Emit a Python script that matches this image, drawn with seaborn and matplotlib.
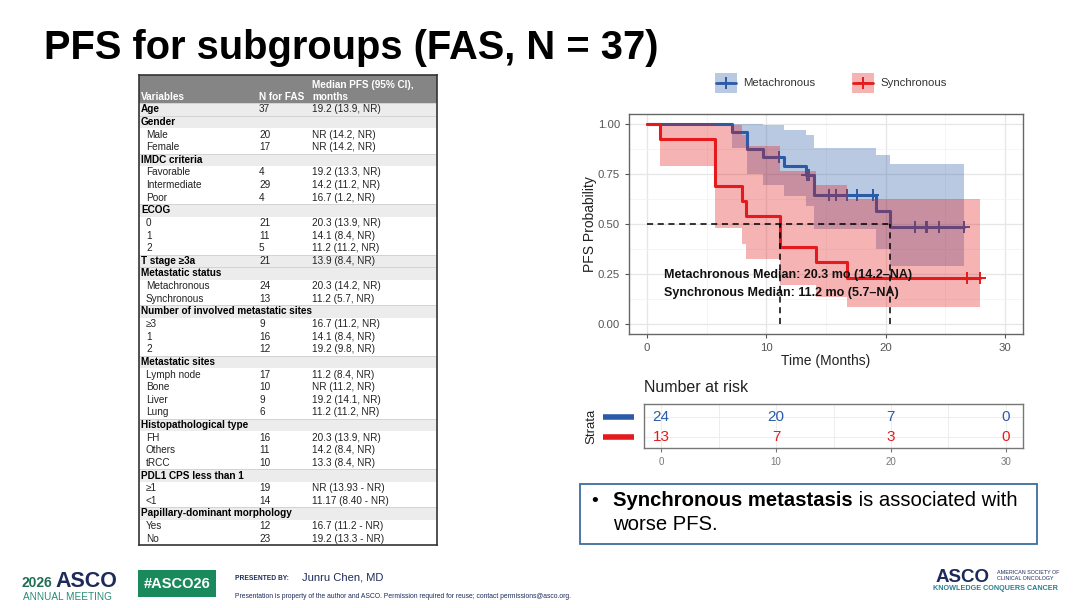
import numpy as np
import pandas as pd
import matplotlib
matplotlib.use("Agg")
import matplotlib.pyplot as plt
import seaborn as sns
from matplotlib.patches import Rectangle
from matplotlib.lines import Line2D

# ---- Kaplan-Meier data ----
groups = ["Metachronous", "Synchronous"]
palette = {"Metachronous": "#2B5BA6", "Synchronous": "#E41A1C"}

meta_time = [0, 7.15, 8.35, 9.75, 11.48, 13.3, 14.0, 19.2, 20.36, 26.6]
meta_surv = [1.0, 0.958, 0.875, 0.833, 0.789, 0.745, 0.646, 0.565, 0.484, 0.484]
meta_lower = [1.0, 0.881, 0.752, 0.697, 0.641, 0.588, 0.475, 0.377, 0.292, 0.292]
meta_upper = [1.0, 1.0, 1.0, 0.997, 0.971, 0.943, 0.879, 0.847, 0.802, 0.802]
meta_censor = [11.06, 13.4, 13.55, 15.25, 15.8, 16.73, 17.63, 18.97,
               22.46, 23.38, 23.5, 24.47, 26.6]

sync_time = [0, 1.12, 5.7, 8.0, 8.27, 11.17, 14.16, 16.76, 27.9]
sync_surv = [1.0, 0.923, 0.692, 0.615, 0.538, 0.385, 0.308, 0.231, 0.231]
sync_lower = [1.0, 0.789, 0.482, 0.400, 0.325, 0.194, 0.136, 0.086, 0.086]
sync_upper = [1.0, 1.0, 0.994, 0.946, 0.890, 0.766, 0.696, 0.623, 0.623]
sync_censor = [26.85, 27.9]

medians = {"Metachronous": 20.36, "Synchronous": 11.17}
median_labels = ["Metachronous Median: 20.3 mo (14.2\u2013NA)",
                 "Synchronous Median: 11.2 mo (5.7\u2013NA)"]

# number at risk
risk_times = [0, 10, 20, 30]
risk_meta = [24, 20, 7, 0]
risk_sync = [13, 7, 3, 0]

# ---- subgroup table ----
table_vars = ["Age", "Gender", "Male", "Female", "IMDC criteria", "Favorable",
              "Intermediate", "Poor", "ECOG", "0", "1", "2", "T stage \u22653a",
              "Metastatic status", "Metachronous", "Synchronous",
              "Number of involved metastatic sites", "\u22653", "1", "2",
              "Metastatic sites", "Lymph node", "Bone", "Liver", "Lung",
              "Histopathological type", "FH", "Others", "tRCC",
              "PDL1 CPS less than 1", "\u22651", "<1",
              "Papillary-dominant morphology", "Yes", "No"]
table_n = ["37", "", "20", "17", "", "4", "29", "4", "", "21", "11", "5", "21",
           "", "24", "13", "", "9", "16", "12", "", "17", "10", "9", "6", "",
           "16", "11", "10", "", "19", "14", "", "12", "23"]
table_pfs = ["19.2 (13.9, NR)", "", "NR (14.2, NR)", "NR (14.2, NR)", "",
             "19.2 (13.3, NR)", "14.2 (11.2, NR)", "16.7 (1.2, NR)", "",
             "20.3 (13.9, NR)", "14.1 (8.4, NR)", "11.2 (11.2, NR)",
             "13.9 (8.4, NR)", "", "20.3 (14.2, NR)", "11.2 (5.7, NR)", "",
             "16.7 (11.2, NR)", "14.1 (8.4, NR)", "19.2 (9.8, NR)", "",
             "11.2 (8.4, NR)", "NR (11.2, NR)", "19.2 (14.1, NR)",
             "11.2 (11.2, NR)", "", "20.3 (13.9, NR)", "14.2 (8.4, NR)",
             "13.3 (8.4, NR)", "", "NR (13.93 - NR)", "11.17 (8.40 - NR)", "",
             "16.7 (11.2 - NR)", "19.2 (13.3 - NR)"]
table_bold = [1, 1, 0, 0, 1, 0, 0, 0, 1, 0, 0, 0, 1, 1, 0, 0, 1, 0, 0, 0,
              1, 0, 0, 0, 0, 1, 0, 0, 0, 1, 0, 0, 1, 0, 0]

sns.set_style("white")
plt.rcParams["font.family"] = ["Liberation Sans", "DejaVu Sans"]
plt.rcParams["text.color"] = "black"

W, H = 1080, 608
fig = plt.figure(figsize=(W / 100, H / 100), dpi=100)


def box(x0, y0, x1, y1):
    # pixel box (top-left origin) -> figure fraction rect
    return [x0 / W, 1 - y1 / H, (x1 - x0) / W, (y1 - y0) / H]


# overlay for slide decorations
ov = fig.add_axes([0, 0, 1, 1])
ov.set_xlim(0, W)
ov.set_ylim(H, 0)
ov.axis("off")

ov.text(44, 59, "PFS for subgroups (FAS, N = 37)", fontsize=28.7,
        weight="bold", va="baseline", ha="left", color="black")

# ---- table ----
tab = fig.add_axes(box(139, 75, 437, 545))
tab.set_xlim(139, 437)
tab.set_ylim(545, 75)
tab.set_xticks([])
tab.set_yticks([])
for s in tab.spines.values():
    s.set_color("#333333")
    s.set_linewidth(1.2)
tab.add_patch(Rectangle((139, 75), 298, 28, color="#858585", lw=0))
hdr = dict(color="white", fontsize=7.2, weight="bold", va="center")
tab.text(141, 97, "Variables", **hdr)
tab.text(259, 97, "N for FAS", **hdr)
tab.text(312, 85, "Median PFS (95% CI),", **hdr)
tab.text(312, 97, "months", **hdr)
row_h = (545 - 103) / len(table_vars)
for i, (v, n, p, b) in enumerate(zip(table_vars, table_n, table_pfs, table_bold)):
    yc = 103 + row_h * (i + 0.5)
    if b:
        tab.add_patch(Rectangle((139, 103 + row_h * i), 298, row_h,
                                color="#ececec", lw=0))
        tab.axhline(103 + row_h * i, color="#cfcfcf", lw=0.6)
    tab.text(141 if b else 146, yc, v, fontsize=7.2, va="center",
             weight="bold" if b else "normal", color="black" if b else "#222222")
    tab.text(259, yc, n, fontsize=7.2, va="center", color="#222222")
    tab.text(312, yc, p, fontsize=7.2, va="center", color="#222222")

# ---- KM plot ----
km = pd.concat([
    pd.DataFrame({"time": meta_time, "surv": meta_surv, "group": "Metachronous"}),
    pd.DataFrame({"time": sync_time, "surv": sync_surv, "group": "Synchronous"}),
])
bands = {"Metachronous": (meta_time, meta_lower, meta_upper),
         "Synchronous": (sync_time, sync_lower, sync_upper)}
censors = {"Metachronous": (meta_time, meta_surv, meta_censor),
           "Synchronous": (sync_time, sync_surv, sync_censor)}

ax = fig.add_axes(box(629, 114, 1023, 334))
sns.lineplot(data=km, x="time", y="surv", hue="group", palette=palette,
             hue_order=groups, estimator=None, sort=False,
             drawstyle="steps-post", lw=2.2, legend=False, ax=ax, zorder=2)
for g in groups:
    t, s, c = censors[g]
    cy = np.array(s)[np.searchsorted(t, c, side="right") - 1]
    ax.plot(c, cy, ls="none", marker="+", ms=9, mew=1.4,
            color=palette[g], zorder=2)
for g in groups:
    t, lo, hi = bands[g]
    ax.fill_between(t, lo, hi, step="post", color=palette[g], alpha=0.33,
                    lw=0, zorder=3)

ax.hlines(0.5, 0, max(medians.values()), colors="black", ls=(0, (4, 3)),
          lw=1.1, zorder=4)
ax.vlines(list(medians.values()), 0, 0.5, colors="black", ls=(0, (4, 3)),
          lw=1.1, zorder=4)
ax.text(1.42, 0.244, median_labels[0], fontsize=9, weight="bold",
        va="center", zorder=5, color="#111111")
ax.text(1.42, 0.153, median_labels[1], fontsize=9, weight="bold",
        va="center", zorder=5, color="#111111")

ax.set_xlim(-1.5, 31.5)
ax.set_ylim(-0.05, 1.05)
ax.set_xticks([0, 10, 20, 30])
ax.set_yticks([0, 0.25, 0.5, 0.75, 1.0])
ax.set_yticklabels(["0.00", "0.25", "0.50", "0.75", "1.00"])
ax.set_xticks([5, 15, 25], minor=True)
ax.set_yticks([0.125, 0.375, 0.625, 0.875], minor=True)
ax.grid(True, which="major", color="#e6e6e6", lw=0.9, zorder=0)
ax.grid(True, which="minor", color="#f2f2f2", lw=0.5, zorder=0)
ax.set_axisbelow(True)
ax.tick_params(axis="both", which="major", labelsize=8.2, colors="#555555",
               length=3, width=0.8, direction="out", left=True, bottom=True)
ax.tick_params(which="minor", length=0)
for s in ax.spines.values():
    s.set_color("#666666")
    s.set_linewidth(1)
ax.set_xlabel("Time (Months)", fontsize=10, color="#222222")
ax.set_ylabel("PFS Probability", fontsize=10, color="#222222")
ax.xaxis.set_label_coords(0.5, -0.09)
ax.yaxis.set_label_coords(-0.081, 0.5)

# legend above the plot
for g, kx in zip(groups, [715, 852]):
    ov.add_patch(Rectangle((kx, 73), 22, 20, color=palette[g], alpha=0.33, lw=0))
    ov.add_line(Line2D([kx + 1, kx + 21], [83, 83], color=palette[g], lw=2))
    ov.plot(kx + 11, 83, marker="+", ms=9, mew=1.4, color=palette[g])
    ov.text(kx + 28, 83, g, fontsize=8.2, va="center", color="#333333")

# ---- number at risk table ----
ov.text(644, 388, "Number at risk", fontsize=11.5, va="center", color="#222222")
rk = fig.add_axes(box(644, 404, 1023, 448))
rk.set_xlim(-1.5, 31.5)
rk.set_ylim(0.45, 2.65)
for row_y, g, vals in [(2, "Metachronous", risk_meta), (1, "Synchronous", risk_sync)]:
    for t, v in zip(risk_times, vals):
        rk.text(t, row_y, str(v), fontsize=11, ha="center", va="center",
                color=palette[g])
rk.set_xticks(risk_times)
rk.set_xticks([5, 15, 25], minor=True)
rk.set_yticks([1, 2])
rk.set_yticklabels([])
rk.grid(True, which="both", color="#ededed", lw=0.7)
rk.tick_params(axis="x", which="major", labelsize=7, colors="#777777",
               length=3, width=0.8, bottom=True)
rk.tick_params(axis="y", length=0)
rk.tick_params(which="minor", length=0)
for s in rk.spines.values():
    s.set_color("#777777")
    s.set_linewidth(1)
ov.text(591, 426, "Strata", rotation=90, fontsize=9.5, ha="center",
        va="center", color="#222222")
for g, ly in zip(groups, [417, 437]):
    ov.add_line(Line2D([603, 634], [ly, ly], color=palette[g], lw=4,
                       solid_capstyle="butt"))

# ---- takeaway box ----
ov.add_patch(Rectangle((580, 484), 457, 60, fill=False, edgecolor="#3d6d9c",
                       lw=1.3))
ov.text(591, 501, "\u2022", fontsize=14, va="center")
t1 = ov.text(613, 501, "Synchronous metastasis", fontsize=14.6,
             weight="bold", va="center")
fig.canvas.draw()
bb = t1.get_window_extent().transformed(ov.transData.inverted())
ov.text(bb.x1, 501, " is associated with", fontsize=14.6, va="center")
ov.text(613, 525, "worse PFS.", fontsize=14.6, va="center")

# ---- footer ----
navy = "#1c2b5a"
green = "#1a8a5c"
ov.text(22, 587, "2026", fontsize=10, weight="bold", color="#1f6f55",
        va="baseline")
ov.text(55, 587, "ASCO", fontsize=15.5, weight="bold", color=navy,
        va="baseline")
ov.text(23, 597, "ANNUAL MEETING", fontsize=7.2, color="#2a8a72", va="center")
ov.add_patch(Rectangle((138, 570), 78, 27, color=green, lw=0))
ov.text(177, 583.5, "#ASCO26", fontsize=10.5, weight="bold", color="white",
        ha="center", va="center")
ov.text(235, 578, "PRESENTED BY:", fontsize=4.8, weight="bold", color=navy,
        va="center")
ov.text(302, 577, "Junru Chen, MD", fontsize=8, color=navy, va="center")
ov.text(235, 596, "Presentation is property of the author and ASCO. "
        "Permission required for reuse; contact permissions@asco.org.",
        fontsize=4.9, color=navy, va="center")
ov.text(936, 582, "ASCO", fontsize=13.5, weight="bold", color=navy,
        va="baseline")
ov.text(997, 572, "AMERICAN SOCIETY OF", fontsize=3.9, color=navy, va="center")
ov.text(997, 579, "CLINICAL ONCOLOGY", fontsize=3.9, color=navy, va="center")
ov.text(933, 589, "KNOWLEDGE CONQUERS CANCER", fontsize=5.2, weight="bold",
        color="#2a7f93", va="center")

fig.savefig("out.png", dpi=100)
